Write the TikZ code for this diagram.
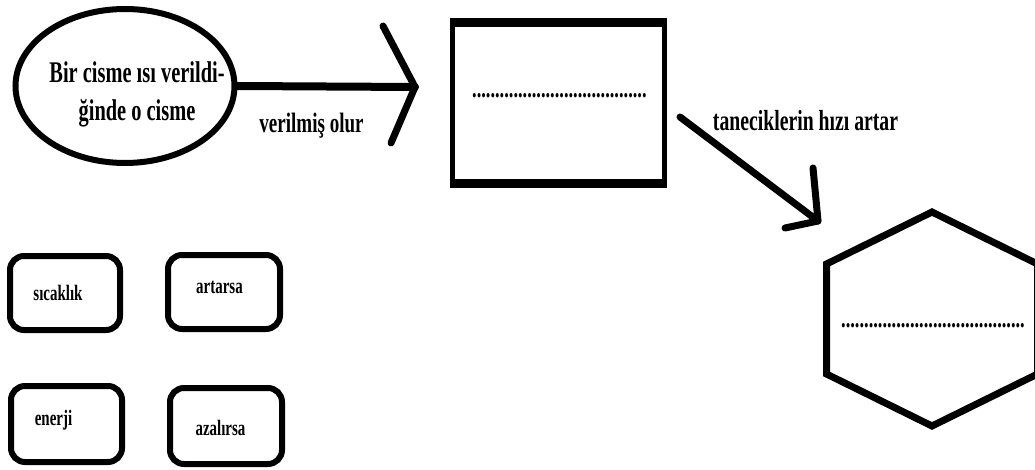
\documentclass[tikz,border=0pt]{standalone}
\usepackage{fontspec}
\setmainfont{Liberation Serif}[FakeStretch=0.68]
\usetikzlibrary{shapes.geometric}
\begin{document}
\begin{tikzpicture}[x=1pt,y=-1pt,
  stroke/.style={line width=7pt, line cap=round, line join=round},
  lbl/.style={inner sep=0pt, font=\bfseries\fontsize{29}{34}\selectfont},
  small/.style={inner sep=0pt, font=\bfseries\fontsize{22}{26}\selectfont},
  chip/.style={draw, line width=6pt, rounded corners=14pt, inner sep=0pt},
  dots/.style={inner sep=0pt, anchor=base west, font=\bfseries\fontsize{27}{30}\selectfont}]
\path[use as bounding box] (0,0) rectangle (1035,470);
\clip (0,0) rectangle (1035,470);
% ellipse
\node[draw, ellipse, line width=6pt, minimum width=219pt, minimum height=154pt, inner sep=0pt] (ell) at (125,86) {};
\node[inner sep=0pt, align=center, font=\bfseries\fontsize{30}{38}\selectfont] (elltxt) at (137,94) {Bir cisme ısı verildi-\\ğinde o cisme};
% rectangle
\node[minimum width=211.7pt, minimum height=160.5pt, inner sep=0pt] (box) at (558.4,102.75) {};
\draw[line width=5pt] (box.north west) rectangle (box.south east);
\draw[line width=9pt, shorten <=-2.5pt, shorten >=-2.5pt] (box.north west) -- (box.north east);
\draw[line width=9pt, shorten <=-2.5pt, shorten >=-2.5pt] (box.south west) -- (box.south east);
\node[dots] (d1) at (472,98) {......................................};
% hexagon
\coordinate (h1) at (932,212);
\coordinate (h2) at (1037.5,264);
\coordinate (h3) at (1037.5,374);
\coordinate (h4) at (932,426);
\coordinate (h5) at (826.5,374);
\coordinate (h6) at (826.5,264);
\draw[line width=7pt, line join=miter] (h1)--(h2)--(h3)--(h4)--(h5)--(h6)--cycle;
\node[dots] (d2) at (841,327) {........................................};
% arrow 1
\coordinate (t1) at (415,87);
\coordinate (t1a) at (383,26);
\coordinate (t1b) at (391,143);
\draw[stroke, line width=8pt] (ell.east) -- (t1);
\draw[stroke] (t1a) -- (t1) -- (t1b);
\node[lbl, anchor=base, font=\bfseries\fontsize{28}{34}\selectfont] (l1) at (311.5,133) {verilmiş olur};
% arrow 2
\coordinate (s2) at (680,117);
\coordinate (t2) at (818,221);
\coordinate (t2a) at (813,168);
\coordinate (t2b) at (785,228);
\draw[stroke] (s2) -- (t2);
\draw[stroke] (t2a) -- (t2) -- (t2b);
\node[lbl, anchor=base] (l2) at (805.5,131) {taneciklerin hızı artar};
% chips
\node[chip, minimum width=110pt, minimum height=74pt] (c1) at (65,293) {};
\node[chip, minimum width=112pt, minimum height=74pt] (c2) at (224,292) {};
\node[chip, minimum width=111pt, minimum height=76pt] (c3) at (66.5,424) {};
\node[chip, minimum width=112pt, minimum height=76pt] (c4) at (226,426) {};
\node[small, anchor=base] (c1t) at (58,300) {sıcaklık};
\node[small, anchor=base] (c2t) at (219.5,293) {artarsa};
\node[small, anchor=base] (c3t) at (53.5,425) {enerji};
\node[small, anchor=base] (c4t) at (220.5,435) {azalırsa};
\end{tikzpicture}
\end{document}
